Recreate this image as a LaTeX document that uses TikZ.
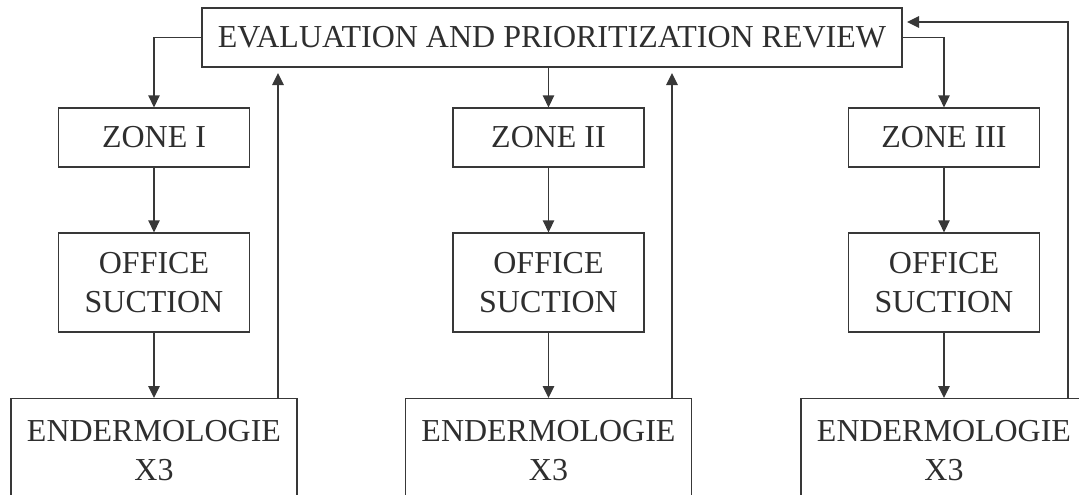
\documentclass[tikz,border=0pt]{standalone}
\usepackage{fontspec}
\setmainfont{Liberation Serif}
\usetikzlibrary{arrows.meta}
\begin{document}
\begin{tikzpicture}[x=1cm,y=1cm,>={Triangle[length=.24cm,width=.23cm]},line width=.75pt,
  draw=black!78,text=black!82,font=\fontsize{18.2}{22.5}\selectfont,
  box/.style={draw,align=center,minimum width=3.82cm,minimum height=1.18cm,inner sep=0pt},
  longbox/.style={draw,align=center,minimum width=5.72cm,anchor=north,inner xsep=0pt,inner ysep=.43cm}]
  \useasboundingbox (0,0) rectangle (21.58,-9.9);
  \node[box,minimum width=14cm] (top) at (11.04,-.75) {EVALUATION AND PRIORITIZATION REVIEW};
  \node[box] (z1) at (3.08,-2.75) {ZONE I};
  \node[box] (z2) at (10.97,-2.75) {ZONE II};
  \node[box] (z3) at (18.88,-2.75) {ZONE III};
  \node[box,minimum height=1.98cm] (o1) at (3.08,-5.65) {OFFICE\\SUCTION};
  \node[box,minimum height=1.98cm] (o2) at (10.97,-5.65) {OFFICE\\SUCTION};
  \node[box,minimum height=1.98cm] (o3) at (18.88,-5.65) {OFFICE\\SUCTION};
  \node[longbox] (e1) at (3.08,-7.96) {ENDERMOLOGIE\\X3};
  \node[longbox] (e2) at (10.97,-7.96) {ENDERMOLOGIE\\X3};
  \node[longbox] (e3) at (18.88,-7.96) {ENDERMOLOGIE\\X3};
  \coordinate (f1) at (5.56,-1.46);
  \coordinate (f2) at (13.44,-1.46);
  \coordinate (r3) at (21.36,-.44);
  \coordinate (t3) at (18.14,-.44);
  % down the zones
  \draw[->] (top.west) -| (z1.north);
  \draw[->] (z2.north |- top.south) -- (z2.north);
  \draw[->] (top.east) -| (z3.north);
  \draw[->] (z1)--(o1); \draw[->] (z2)--(o2); \draw[->] (z3)--(o3);
  \draw[->] (o1)--(e1); \draw[->] (o2)--(e2); \draw[->] (o3)--(e3);
  % back to the review
  \draw[->] (f1 |- e1.north)--(f1);
  \draw[->] (f2 |- e2.north)--(f2);
  \draw[->] (r3 |- e3.north)--(r3)--(t3);
\end{tikzpicture}
\end{document}
